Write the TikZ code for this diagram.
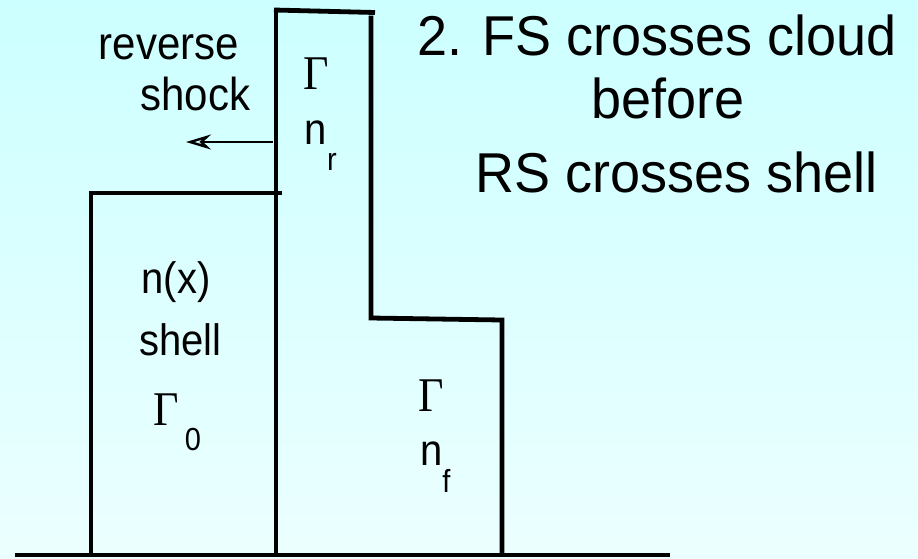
\documentclass[tikz,border=0pt]{standalone}
\usepackage{fontspec}
\setmainfont{Liberation Sans}
\newfontfamily\serifG{Liberation Serif}
\usetikzlibrary{arrows.meta}
\newcommand{\vstr}[1]{\scalebox{1}[1.1]{#1}}
\newcommand{\vstrt}[1]{\scalebox{1}[1.04]{#1}}
\begin{document}
\begin{tikzpicture}[x=1pt,y=-1pt,
  wall/.style={line width=4.8pt,line cap=rect},
  lbl/.style={inner sep=0pt,anchor=base},
  title/.style={lbl,font=\fontsize{54}{60}\selectfont},
  side/.style={lbl,font=\fontsize{42}{48}\selectfont},
  body/.style={lbl,font=\fontsize{40}{46}\selectfont},
  gam/.style={lbl,font=\serifG\fontsize{44}{50}\selectfont},
  subs/.style={lbl,font=\fontsize{29}{32}\selectfont}]
\shade[top color={rgb,255:red,204;green,255;blue,255},bottom color={rgb,255:red,236;green,255;blue,255}] (0,0) rectangle (918,558);
\useasboundingbox (0,0) rectangle (918,558);
% ground line
\draw[line width=4.8pt] (15,555) -- (670,555);
% shell box
\draw[wall] (91,553) -- (91,193) -- (280,193);
% middle tall region
\draw[wall] (276,553) -- (276,10);
\draw[line width=4.8pt] (274,10) -- (375,12.5);
\draw[wall] (371,18) -- (371,318) -- (502,320) -- (502,553);
% labels
\node[side] (rev) at (169,59) {\vstr{reverse}};
\node[side] (sho) at (195.5,110) {\vstr{shock}};
\coordinate (arrS) at (273,142);
\coordinate (arrE) at (186,142);
\draw[line width=2.2pt,-{Stealth[open,length=25pt,width=15pt,inset=8pt,line width=2.4pt]}] (arrS) -- (arrE);
\node[title] (t1) at (657,55) {\vstrt{2. FS crosses cloud}};
\node[title] (t2) at (668,118) {\vstrt{before}};
\node[title] (t3) at (677,192) {\vstrt{RS crosses shell}};
\node[gam] (gr) at (316,89) {\vstr{Γ}};
\node[body] (nr) at (316,144) {\vstr{n}};
\node[subs,anchor=base west] (rr) at (327,170) {\vstr{r}};
\node[body] (nx) at (176,293) {\vstr{n(x)}};
\node[body] (sh) at (180.5,355) {\vstr{shell}};
\node[gam] (g0) at (166,425) {\vstr{Γ}};
\node[subs] (z0) at (193,450) {\vstr{0}};
\node[gam] (gf) at (431.5,411) {\vstr{Γ}};
\node[body] (nf) at (432,465) {\vstr{n}};
\node[subs] (ff) at (446.5,492) {\vstr{f}};
\end{tikzpicture}
\end{document}
